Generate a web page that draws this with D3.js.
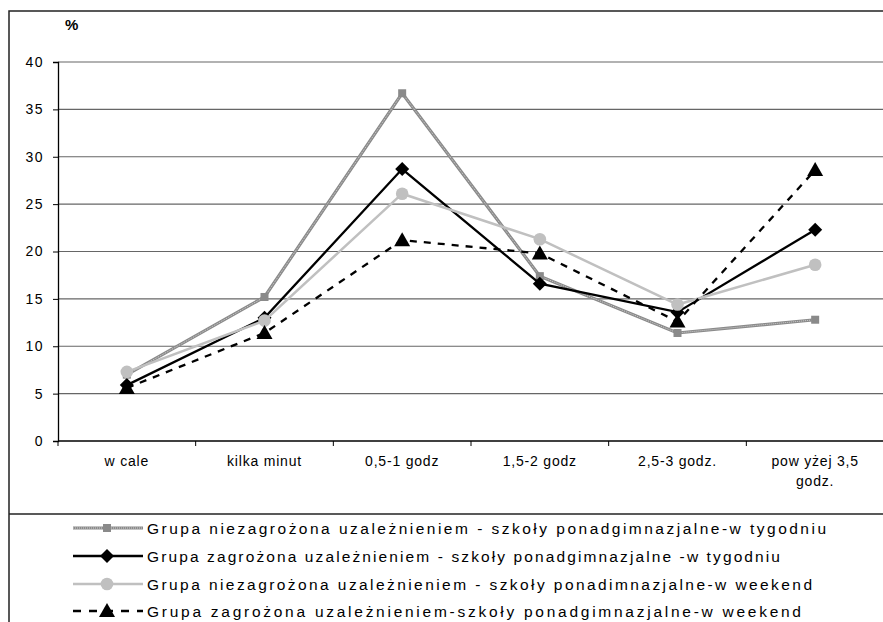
<!DOCTYPE html>
<html>
<head>
<meta charset="utf-8">
<script src="https://cdn.jsdelivr.net/npm/d3@7"></script>
<style>
  html, body { margin: 0; padding: 0; background: #fff; }
  svg { display: block; font-family: Arial, "Liberation Sans", sans-serif; }
</style>
</head>
<body>
<svg id="chart" width="883" height="622"></svg>
<script>
// Time spent categories
const categories = ["w cale", "kilka minut", "0,5-1 godz", "1,5-2 godz", "2,5-3 godz.", "pow yżej 3,5\ngodz."];
const yTicks = [0, 5, 10, 15, 20, 25, 30, 35, 40];

// Series values (%)
const niezagrozonaTydzien = [7.0, 15.2, 36.7, 17.4, 11.4, 12.8];
const zagrozonaTydzien    = [5.9, 13.0, 28.7, 16.6, 13.6, 22.3];
const niezagrozonaWeekend = [7.3, 12.7, 26.1, 21.3, 14.4, 18.6];
const zagrozonaWeekend    = [5.6, 11.4, 21.2, 19.8, 12.6, 28.6];

const seriesNames = [
  "Grupa niezagrożona uzależnieniem - szkoły ponadgimnazjalne-w tygodniu",
  "Grupa zagrożona uzależnieniem - szkoły ponadgimnazjalne -w tygodniu",
  "Grupa niezagrożona uzależnieniem - szkoły ponadimnazjalne-w weekend",
  "Grupa zagrożona uzależnieniem-szkoły ponadgimnazjalne-w weekend"
];

const series = [
  { name: seriesNames[0], values: niezagrozonaTydzien, kind: "square" },
  { name: seriesNames[1], values: zagrozonaTydzien, kind: "diamond" },
  { name: seriesNames[2], values: niezagrozonaWeekend, kind: "circle" },
  { name: seriesNames[3], values: zagrozonaWeekend, kind: "triangle" }
];

const svg = d3.select("#chart");

const plot = { left: 58, right: 884, top: 62, bottom: 441 };

const x = d3.scaleBand().domain(d3.range(categories.length)).range([plot.left, plot.right]);
const y = d3.scaleLinear().domain([0, 40]).range([plot.bottom, plot.top]);
const cx = i => x(i) + x.bandwidth() / 2;

// Chart frame and legend frame
svg.append("rect").attr("x", 9).attr("y", 11).attr("width", 1000).attr("height", 800)
  .attr("fill", "none").attr("stroke", "#222").attr("stroke-width", 1.5);
svg.append("line").attr("x1", 9).attr("x2", 900).attr("y1", 514).attr("y2", 514)
  .attr("stroke", "#222").attr("stroke-width", 1.3);

// Horizontal gridlines
svg.append("g").selectAll("line").data(yTicks.filter(t => t > 0)).join("line")
  .attr("x1", plot.left).attr("x2", 883)
  .attr("y1", d => y(d)).attr("y2", d => y(d))
  .attr("stroke", "#666").attr("stroke-width", 1.2);

// Y axis
const yAxis = svg.append("g").attr("transform", `translate(${plot.left},0)`)
  .call(d3.axisLeft(y).tickValues(yTicks).tickSize(5).tickPadding(9));
yAxis.select(".domain").attr("stroke", "#000").attr("stroke-width", 1.3);
yAxis.selectAll(".tick line").attr("stroke", "#000");
yAxis.selectAll("text").attr("font-size", 14).attr("fill", "#000")
  .attr("letter-spacing", 1.5)
  .attr("font-family", "Arial, 'Liberation Sans', sans-serif");

// X axis with ticks at category boundaries
const xAxisG = svg.append("g");
xAxisG.append("line").attr("x1", plot.left).attr("x2", 883)
  .attr("y1", plot.bottom).attr("y2", plot.bottom)
  .attr("stroke", "#000").attr("stroke-width", 1.3);
xAxisG.selectAll("line.tk").data(d3.range(categories.length)).join("line")
  .attr("class", "tk")
  .attr("x1", d => x(d)).attr("x2", d => x(d))
  .attr("y1", plot.bottom).attr("y2", plot.bottom + 5)
  .attr("stroke", "#000");
categories.forEach((c, i) => {
  const t = xAxisG.append("text")
    .attr("x", cx(i)).attr("y", plot.bottom + 25)
    .attr("text-anchor", "middle").attr("font-size", 14).attr("fill", "#000")
    .attr("letter-spacing", 0.8);
  c.split("\n").forEach((part, j) => {
    t.append("tspan").attr("x", cx(i)).attr("dy", j === 0 ? 0 : 20).text(part);
  });
});

// Unit label
svg.append("text").attr("x", 65).attr("y", 30).attr("font-size", 15)
  .attr("font-weight", "bold").text("%");

const line = d3.line().x((d, i) => cx(i)).y(d => y(d));

function drawLine(g, s, pathD, dash) {
  if (s.kind === "square") {
    g.append("path").attr("d", pathD).attr("fill", "none")
      .attr("stroke", "#8a8a8a").attr("stroke-width", 3.2);
    g.append("path").attr("d", pathD).attr("fill", "none")
      .attr("stroke", "#d0d0d0").attr("stroke-width", 1).attr("stroke-dasharray", "1,1");
  } else if (s.kind === "diamond") {
    g.append("path").attr("d", pathD).attr("fill", "none")
      .attr("stroke", "#000").attr("stroke-width", 2.3);
  } else if (s.kind === "circle") {
    g.append("path").attr("d", pathD).attr("fill", "none")
      .attr("stroke", "#c0c0c0").attr("stroke-width", 2.5);
  } else {
    g.append("path").attr("d", pathD).attr("fill", "none")
      .attr("stroke", "#000").attr("stroke-width", 2.3).attr("stroke-dasharray", dash || "7,7");
  }
}

function drawMarker(g, kind, px, py) {
  if (kind === "square") {
    g.append("rect").attr("x", px - 4).attr("y", py - 4).attr("width", 8).attr("height", 8)
      .attr("fill", "#8a8a8a");
  } else if (kind === "diamond") {
    g.append("path").attr("transform", `translate(${px},${py})`)
      .attr("d", "M0,-7L7,0L0,7L-7,0Z").attr("fill", "#000");
  } else if (kind === "circle") {
    g.append("circle").attr("cx", px).attr("cy", py).attr("r", 6.3).attr("fill", "#c0c0c0");
  } else {
    g.append("path").attr("transform", `translate(${px},${py})`)
      .attr("d", "M0,-8L8,6L-8,6Z").attr("fill", "#000");
  }
}

// Series lines then markers
const seriesG = svg.append("g");
series.forEach(s => {
  const g = seriesG.append("g");
  drawLine(g, s, line(s.values));
  s.values.forEach((v, i) => drawMarker(g, s.kind, cx(i), y(v)));
});

// Legend
const legend = svg.append("g");
const legendRows = [528, 556, 584, 611];
const legendWidths = [679, 633, 665, 654];
series.forEach((s, k) => {
  const ly = legendRows[k];
  const g = legend.append("g");
  drawLine(g, s, `M73,${ly}L143,${ly}`, "8,8");
  drawMarker(g, s.kind, 107, ly);
  g.append("text").attr("x", 147).attr("y", ly + 6).attr("font-size", 15.5)
    .attr("fill", "#000")
    .attr("textLength", legendWidths[k]).attr("lengthAdjust", "spacing")
    .text(s.name);
});
</script>
</body>
</html>
